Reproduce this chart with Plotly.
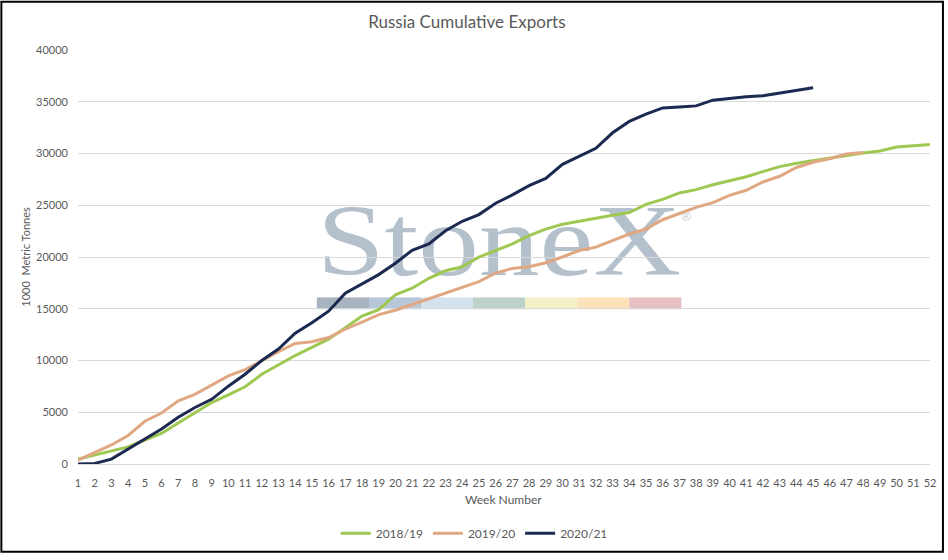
import base64
import plotly.graph_objects as go

# week numbers on the category axis
weeks = [str(w) for w in range(1, 53)]

# cumulative exports, 1000 metric tonnes
exports_1819 = [470, 860, 1270, 1650, 2320, 2950, 3970, 4920, 5940, 6670,
                7460, 8670, 9590, 10480, 11270, 12060, 13170, 14290, 14920, 16350,
                16980, 17940, 18670, 19050, 20000, 20600, 21270, 22060, 22700, 23170,
                23430, 23740, 24030, 24290, 25080, 25560, 26190, 26510, 26980, 27400,
                27750, 28250, 28730, 29050, 29300, 29550, 29850, 30050, 30250, 30630,
                30750, 30860]
exports_1920 = [380, 1110, 1840, 2760, 4130, 4920, 6100, 6730, 7620, 8510,
                9110, 10000, 10860, 11650, 11810, 12220, 13020, 13710, 14440, 14860,
                15400, 15950, 16500, 17060, 17620, 18450, 18900, 19050, 19450, 20000,
                20630, 20950, 21590, 22220, 22700, 23600, 24200, 24800, 25250, 25950,
                26450, 27250, 27800, 28650, 29150, 29500, 29950, 30100]
exports_2021 = [0, 60, 470, 1430, 2380, 3390, 4510, 5460, 6250, 7520,
                8670, 10000, 11110, 12630, 13650, 14760, 16510, 17400, 18300, 19400,
                20650, 21270, 22540, 23450, 24100, 25200, 26000, 26900, 27600, 28950,
                29700, 30500, 32000, 33100, 33800, 34400, 34500, 34600, 35150, 35350,
                35480, 35580, 35850, 36050, 36350]

series = [("2018/19", exports_1819, "#9fc852"),
          ("2019/20", exports_1920, "#e0a882"),
          ("2020/21", exports_2021, "#1c2951")]

FONT = "Lato"
GREY = "#595959"

# StoneX watermark as an svg image, drawn under grid and lines
bar_cols = ["#a7b3be", "#b8c7d8", "#d4e2ee", "#bdd2c8", "#f4f0c8", "#fbe2b8", "#e6c0c2"]
bars = "".join('<rect x="%.1f" y="106" width="52.4" height="12" fill="%s"/>' % (8 + i * 52.3, c)
               for i, c in enumerate(bar_cols))
svg = ('<svg xmlns="http://www.w3.org/2000/svg" width="390" height="125" viewBox="0 0 390 125">'
       '<text x="8" y="83" font-family="Liberation Serif" font-size="104" fill="#b4c0cb" '
       'textLength="366" lengthAdjust="spacingAndGlyphs">StoneX</text>'
       '<text x="374" y="28" font-family="Liberation Sans" font-size="13" fill="#c3ccd5">&#174;</text>'
       + bars + '</svg>')
svg_src = "data:image/svg+xml;base64," + base64.b64encode(svg.encode()).decode()

fig = go.Figure()
for name, vals, col in series:
    fig.add_trace(go.Scatter(x=weeks[:len(vals)], y=vals, name=name, mode="lines",
                             line=dict(color=col, width=3)))

fig.update_layout(
    width=948, height=560,
    margin=dict(l=78, r=14, t=50, b=90),
    paper_bgcolor="white", plot_bgcolor="rgba(0,0,0,0)",
    font=dict(family=FONT, size=11, color=GREY),
    title=dict(text="Russia Cumulative Exports", x=0.4925, xref="container", xanchor="center",
               y=1 - 22 / 560, yref="container", yanchor="middle",
               font=dict(family=FONT, size=17, color=GREY)),
    showlegend=True,
    legend=dict(orientation="h", x=0.465, xanchor="center", y=-0.167, yanchor="middle",
                font=dict(family=FONT, size=12, color=GREY), itemwidth=30),
    images=[dict(source=svg_src, xref="paper", yref="paper", x=(310 - 78) / 856, y=(470 - 195) / 420,
                 sizex=390 / 856, sizey=125 / 420, xanchor="left", yanchor="top",
                 sizing="stretch", layer="below")],
    annotations=[
        dict(text="Week Number", xref="paper", yref="paper", x=0.499, y=-0.0857,
             xanchor="center", yanchor="middle", showarrow=False,
             font=dict(family=FONT, size=12, color=GREY)),
        dict(text="1000  Metric Tonnes", xref="paper", yref="paper", x=-0.0625, y=0.5,
             xanchor="center", yanchor="middle", textangle=-90, showarrow=False,
             font=dict(family=FONT, size=11, color=GREY)),
    ],
    shapes=[dict(type="rect", xref="paper", yref="paper",
                 x0=-77 / 856, x1=869 / 856, y0=-89 / 420, y1=1 + 49 / 420,
                 line=dict(color="black", width=2), layer="above")],
)
fig.update_xaxes(type="category", showgrid=False, showline=True, linecolor="#d9d9d9",
                 ticks="", ticklabelstandoff=9, tickfont=dict(size=11, color=GREY))
fig.update_yaxes(range=[0, 40000], dtick=5000, tickformat="d", showgrid=True, gridcolor="#d9d9d9",
                 zeroline=False, showline=False, ticks="", ticklabelstandoff=9,
                 tickfont=dict(size=11, color=GREY))

# pin the figure to the window corner; if the real viewport differs from 948x560,
# stretch the figure (and its margins) to fill it exactly
pin = ("document.documentElement.style.margin='0';document.body.style.margin='0';"
       "var gd=document.getElementById('{plot_id}');"
       "gd.style.position='fixed';gd.style.left='0px';gd.style.top='0px';"
       "var W=window.innerWidth,H=window.innerHeight;"
       "if(W>0&&H>0&&(W!==948||H!==560)){var sx=W/948,sy=H/560;"
       "Plotly.relayout(gd,{width:W,height:H,'margin.l':78*sx,'margin.r':14*sx,"
       "'margin.t':50*sy,'margin.b':90*sy});}")
fig.write_html("out.html", config={"displayModeBar": False}, post_script=pin)
